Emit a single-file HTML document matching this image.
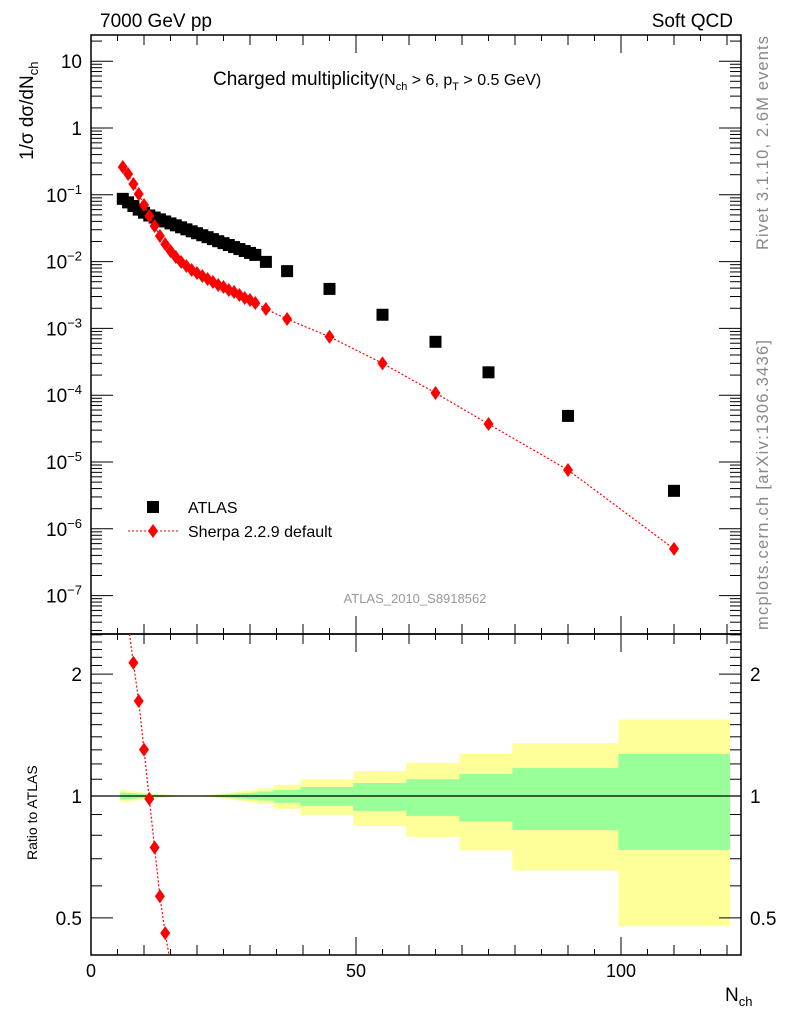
<!DOCTYPE html>
<html><head><meta charset="utf-8">
<style>
html,body{margin:0;padding:0;background:#fff;overflow:hidden;width:786px;height:1024px;}
svg{display:block;font-family:"Liberation Sans",Arial,sans-serif;overflow:hidden;}
</style></head>
<body>
<svg id="c" width="786" height="1024" viewBox="0 0 786 1024" overflow="hidden" xmlns="http://www.w3.org/2000/svg">
<text x="100" y="27" font-size="19">7000 GeV pp</text>
<text x="733" y="27" font-size="19" text-anchor="end">Soft QCD</text>
<text x="213" y="85" font-size="19">Charged multiplicity<tspan font-size="16">(N</tspan><tspan font-size="11" dy="5">ch</tspan><tspan font-size="16" dy="-5"> &gt; 6, p</tspan><tspan font-size="11" dy="5">T</tspan><tspan font-size="16" dy="-5"> &gt; 0.5 GeV)</tspan></text>
<text transform="translate(33,160) rotate(-90)" font-size="19">1/σ dσ/dN<tspan font-size="13" dy="5">ch</tspan></text>
<text transform="translate(37,860) rotate(-90)" font-size="14">Ratio to ATLAS</text>
<text transform="translate(768,250) rotate(-90)" font-size="16.5" textLength="214" lengthAdjust="spacing" fill="#888">Rivet 3.1.10,  2.6M events</text>
<text transform="translate(768,630) rotate(-90)" font-size="16.5" textLength="290" lengthAdjust="spacing" fill="#888">mcplots.cern.ch [arXiv:1306.3436]</text>
<text x="415" y="603" font-size="13" fill="#999" text-anchor="middle">ATLAS_2010_S8918562</text>
<text x="725" y="1001" font-size="19">N<tspan font-size="13" dy="5">ch</tspan></text>
<g>
<rect x="147" y="501" width="12" height="12" fill="#000"/>
<text x="188" y="513" font-size="16">ATLAS</text>
<line x1="128" y1="531" x2="180" y2="531" stroke="#f00" stroke-dasharray="2,2"/>
<polygon points="153,524 158,531 153,538 148,531" fill="#f00"/>
<text x="188" y="537" font-size="16">Sherpa 2.2.9 default</text>
</g>
</svg>
<script>
const nch=[6,7,8,9,10,11,12,13,14,15,16,17,18,19,20,21,22,23,24,25,26,27,28,29,30,31,33,37,45,55,65,75,90,110];
const atlas=[0.087,0.077,0.068,0.060,0.054,0.049,0.0457,0.0428,0.0399,0.0373,0.0349,0.0326,0.0304,0.0284,0.0266,0.0248,0.0232,0.0217,0.0202,0.0189,0.0177,0.0165,0.0154,0.0144,0.0135,0.0126,0.0099,0.0072,0.0039,0.0016,0.00063,0.00022,0.000049,0.0000037];
const sherpa=[0.261,0.205,0.145,0.103,0.0703,0.0482,0.0341,0.0242,0.0183,0.0144,0.0117,0.00986,0.00859,0.00748,0.00675,0.00608,0.00549,0.00495,0.00446,0.00417,0.00376,0.00351,0.00316,0.00285,0.00266,0.00240,0.00195,0.00138,0.00075,0.00030,0.000108,0.000037,0.0000076,0.0000005];
const binEdges=[5.5,6.5,7.5,8.5,9.5,10.5,11.5,12.5,13.5,14.5,15.5,16.5,17.5,18.5,19.5,20.5,21.5,22.5,23.5,24.5,25.5,26.5,27.5,28.5,29.5,30.5,31.5,34.5,39.5,49.5,59.5,69.5,79.5,99.5,120.5];
const yelUp=[1.035,1.03,1.027,1.024,1.02,1.017,1.014,1.011,1.009,1.007,1.005,1.004,1.003,1.003,1.003,1.004,1.006,1.008,1.011,1.014,1.018,1.022,1.026,1.03,1.034,1.038,1.045,1.065,1.10,1.153,1.208,1.27,1.35,1.545];
const yelDn=[0.965,0.97,0.973,0.976,0.98,0.983,0.986,0.989,0.991,0.993,0.995,0.996,0.997,0.997,0.997,0.996,0.994,0.992,0.989,0.986,0.982,0.978,0.974,0.97,0.966,0.962,0.955,0.93,0.898,0.843,0.792,0.734,0.655,0.477];
const grnUp=[1.02,1.018,1.016,1.014,1.012,1.01,1.008,1.006,1.005,1.004,1.003,1.002,1.002,1.001,1.001,1.002,1.003,1.004,1.006,1.008,1.01,1.012,1.014,1.016,1.018,1.02,1.026,1.035,1.053,1.077,1.10,1.133,1.173,1.27];
const grnDn=[0.98,0.982,0.984,0.986,0.988,0.99,0.992,0.994,0.995,0.996,0.997,0.998,0.998,0.999,0.999,0.998,0.997,0.996,0.994,0.992,0.99,0.988,0.986,0.984,0.982,0.98,0.974,0.962,0.946,0.919,0.893,0.865,0.824,0.736];
const xTickLabels=[0,50,100];
const mainTickExps=[1,0,-1,-2,-3,-4,-5,-6,-7];
const ratioTickLabels=[0.5,1,2];

const NS="http://www.w3.org/2000/svg";
const svg=document.getElementById('c');
const L=91,R=741,T=35,MB=634,RB=955;
const X=n=>L+(n)*5.3;
const YM=v=>128-66.8*Math.log10(v);
const YR=r=>796-405*Math.log10(r);
function mk(tag,attrs,parent){const e=document.createElementNS(NS,tag);for(const k in attrs)e.setAttribute(k,attrs[k]);(parent||svg).appendChild(e);return e;}

const defs=mk('defs',{});
const cp1=mk('clipPath',{id:'cm'},defs);mk('rect',{x:L,y:T,width:R-L,height:MB-T},cp1);
const cp2=mk('clipPath',{id:'cr'},defs);mk('rect',{x:L,y:MB,width:R-L,height:RB-MB},cp2);

const bands=mk('g',{'clip-path':'url(#cr)'});


for(let i=0;i<nch.length;i++){
  const x0=X(binEdges[i]),x1=X(binEdges[i+1]);
  const y=mk('rect',{x:x0,y:YR(yelUp[i]),width:x1-x0+0.5,height:YR(yelDn[i])-YR(yelUp[i]),fill:'#ffff99'},bands);
  
  
}
for(let i=0;i<nch.length;i++){
  const x0=X(binEdges[i]),x1=X(binEdges[i+1]);
  const g=mk('rect',{x:x0,y:YR(grnUp[i]),width:x1-x0+0.5,height:YR(grnDn[i])-YR(grnUp[i]),fill:'#99ff99'},bands);
  
  
}
const one=mk('line',{x1:L,x2:R,y1:YR(1),y2:YR(1),stroke:'#000','stroke-width':1.2});



const f1=mk('rect',{x:L,y:T,width:R-L,height:MB-T,fill:'none',stroke:'#000','stroke-width':1.5});


const f2=mk('rect',{x:L,y:MB,width:R-L,height:RB-MB,fill:'none',stroke:'#000','stroke-width':1.5});



const ax=mk('g',{stroke:'#000','stroke-width':1});


for(let n=0;n<=120;n+=5){
  const len=n%50===0?18:(n%10===0?10:6);
  const x=X(n);
  mk('line',{x1:x,x2:x,y1:T,y2:T+len},ax);
  mk('line',{x1:x,x2:x,y1:MB,y2:MB-len},ax);
  mk('line',{x1:x,x2:x,y1:MB,y2:MB+len},ax);
  mk('line',{x1:x,x2:x,y1:RB,y2:RB-len},ax);
}
xTickLabels.forEach(v=>{
  const t=mk('text',{x:X(v),y:977,'font-size':18,'text-anchor':'middle'});
  t.textContent=v;
  
  
});
const ay=mk('g',{stroke:'#000','stroke-width':1,'clip-path':'url(#cm)'});


for(let e=-8;e<=1;e++){
  for(let m=1;m<10;m++){
    const y=YM(m*Math.pow(10,e));
    if(y<T||y>MB)continue;
    const len=m===1?22:11;
    mk('line',{x1:L,x2:L+len,y1:y,y2:y},ay);
    mk('line',{x1:R,x2:R-len,y1:y,y2:y},ay);
  }
}
mainTickExps.forEach(e=>{
  const y=YM(Math.pow(10,e));
  const t=mk('text',{x:82,y:y+7,'font-size':19,'text-anchor':'end'});
  if(e===1)t.textContent='10';else if(e===0)t.textContent='1';
  else{t.innerHTML='10<tspan font-size="13" dy="-8">−'+(-e)+'</tspan>';}
  
  
});
const ar=mk('g',{stroke:'#000','stroke-width':1});


[0.5,0.6,0.7,0.8,0.9,1,1.1,1.2,1.3,1.4,1.5,1.6,1.7,1.8,1.9,2,2.1,2.2,2.3,2.4,2.5].forEach(v=>{
  const y=YR(v);
  const len=(v===0.5||v===1||v===2)?22:11;
  mk('line',{x1:L,x2:L+len,y1:y,y2:y},ar);
  mk('line',{x1:R,x2:R-len,y1:y,y2:y},ar);
});
ratioTickLabels.forEach(v=>{
  const y=YR(v)+7;
  const a=mk('text',{x:82,y:y,'font-size':19,'text-anchor':'end'});a.textContent=v;
  
  
  const b=mk('text',{x:750,y:y,'font-size':19});b.textContent=v;
  
  
});

const ga=mk('g',{'clip-path':'url(#cm)'});


nch.forEach((n,i)=>{
  const r=mk('rect',{x:X(n)-6,y:YM(atlas[i])-6,width:12,height:12,fill:'#000'},ga);
  
  
});
const gs=mk('g',{'clip-path':'url(#cm)'});


const sl=mk('polyline',{points:nch.map((n,i)=>X(n)+','+YM(sherpa[i])).join(' '),fill:'none',stroke:'#f00','stroke-width':1.2,'stroke-dasharray':'2,2'},gs);


nch.forEach((n,i)=>{
  const x=X(n),y=YM(sherpa[i]);
  const d=mk('polygon',{points:`${x},${y-7} ${x+5},${y} ${x},${y+7} ${x-5},${y}`,fill:'#f00'},gs);
  
  
});
const gr=mk('g',{'clip-path':'url(#cr)'});


const rl=mk('polyline',{points:nch.map((n,i)=>X(n)+','+YR(sherpa[i]/atlas[i])).join(' '),fill:'none',stroke:'#f00','stroke-width':1.2,'stroke-dasharray':'2,2'},gr);


nch.forEach((n,i)=>{
  const x=X(n),y=YR(sherpa[i]/atlas[i]);
  const d=mk('polygon',{points:`${x},${y-7} ${x+5},${y} ${x},${y+7} ${x-5},${y}`,fill:'#f00'},gr);
  
  
});
</script>
</body></html>
